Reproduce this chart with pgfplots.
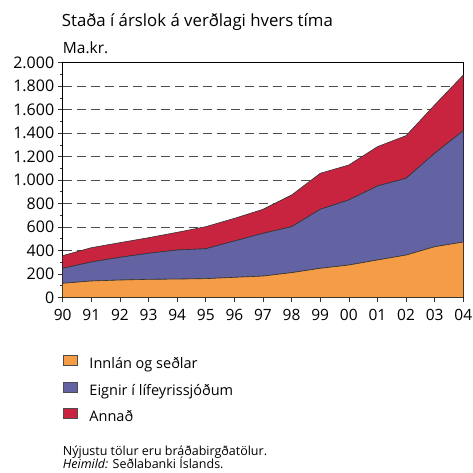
\documentclass[border=0pt]{standalone}
\usepackage{fontspec}
\setmainfont{Open Sans}
\usepackage{pgfplots}
\pgfplotsset{compat=1.18}

\definecolor{innlan}{HTML}{F59C47}
\definecolor{eignir}{HTML}{6363A4}
\definecolor{annad}{HTML}{C8243F}

\begin{document}
\begin{tikzpicture}
\path[use as bounding box] (-62.7bp,-175.7bp) rectangle (410.3bp,297.3bp);
\begin{axis}[
  at={(0,0)}, anchor=south west,
  scale only axis,
  width=400.6bp, height=234.6bp,
  xmin=1990, xmax=2004, ymin=0, ymax=2000,
  stack plots=y,
  xtick={1990,...,2004},
  xticklabels={90,91,92,93,94,95,96,97,98,99,00,01,02,03,04},
  ytick={0,200,...,2000},
  minor y tick num=1,
  tick align=outside,
  major tick length=5bp, minor tick length=3bp,
  xtick pos=bottom, ytick pos=left,
  tick style={black!80, line width=0.6pt},
  ymajorgrids,
  grid style={black!70, dash pattern=on 9bp off 5bp, line width=0.7pt},
  /pgf/number format/.cd, 1000 sep={.}, assume math mode=true,
  /pgfplots/.cd,
  ticklabel style={font=\fontsize{15.5bp}{18bp}\selectfont},
  yticklabel style={font=\fontsize{16bp}{18bp}\selectfont},
  xticklabel style={yshift=-3bp},
  axis line style={black, line width=0.8pt},
  every axis plot/.append style={draw=black!80, line width=0.6pt},
  legend cell align=left,
  legend style={at={(0,-0.245)}, anchor=north west, draw=none, fill=none,
    inner sep=0pt, row sep=10bp,
    nodes={inner sep=0pt, text height=11.5bp, text depth=3bp},
    font=\fontsize{14.5bp}{17bp}\selectfont,
    /tikz/every odd column/.style={column sep=12bp}},
  legend image code/.code={\draw[#1, draw=black!70, line width=0.6pt] (0bp,-1bp) rectangle (14bp,9bp);},
]
\addplot[fill=innlan] coordinates {
  (1990,119) (1991,139) (1992,147) (1993,153) (1994,155) (1995,159) (1996,170)
  (1997,181) (1998,210) (1999,247) (2000,275) (2001,318) (2002,360) (2003,431) (2004,471)
} \closedcycle;
\addlegendentry{Innlán og seðlar}
\addplot[fill=eignir] coordinates {
  (1990,128) (1991,162) (1992,194) (1993,222) (1994,248) (1995,255) (1996,310)
  (1997,364) (1998,392) (1999,503) (2000,555) (2001,631) (2002,654) (2003,797) (2004,949)
} \closedcycle;
\addlegendentry{Eignir í lífeyrissjóðum}
\addplot[fill=annad] coordinates {
  (1990,108) (1991,122) (1992,125) (1993,133) (1994,151) (1995,188) (1996,193)
  (1997,205) (1998,270) (1999,307) (2000,298) (2001,335) (2002,364) (2003,412) (2004,475)
} \closedcycle;
\addlegendentry{Annað}
\end{axis}
\node[anchor=base west, inner sep=0pt, font=\fontsize{16.8bp}{19bp}\selectfont] at (-1bp,270.6bp) {Staða í árslok á verðlagi hvers tíma};
\node[anchor=base west, inner sep=0pt, font=\fontsize{15.5bp}{18bp}\selectfont] at (0bp,244bp) {Ma.kr.};
\node[anchor=base west, inner sep=0pt, font=\fontsize{12.5bp}{14bp}\selectfont] at (0bp,-157.7bp) {Nýjustu tölur eru bráðabirgðatölur.};
\node[anchor=base west, inner sep=0pt, font=\fontsize{12.5bp}{14bp}\selectfont] at (0bp,-171bp) {\textit{Heimild:} Seðlabanki Íslands.};
\end{tikzpicture}
\end{document}
